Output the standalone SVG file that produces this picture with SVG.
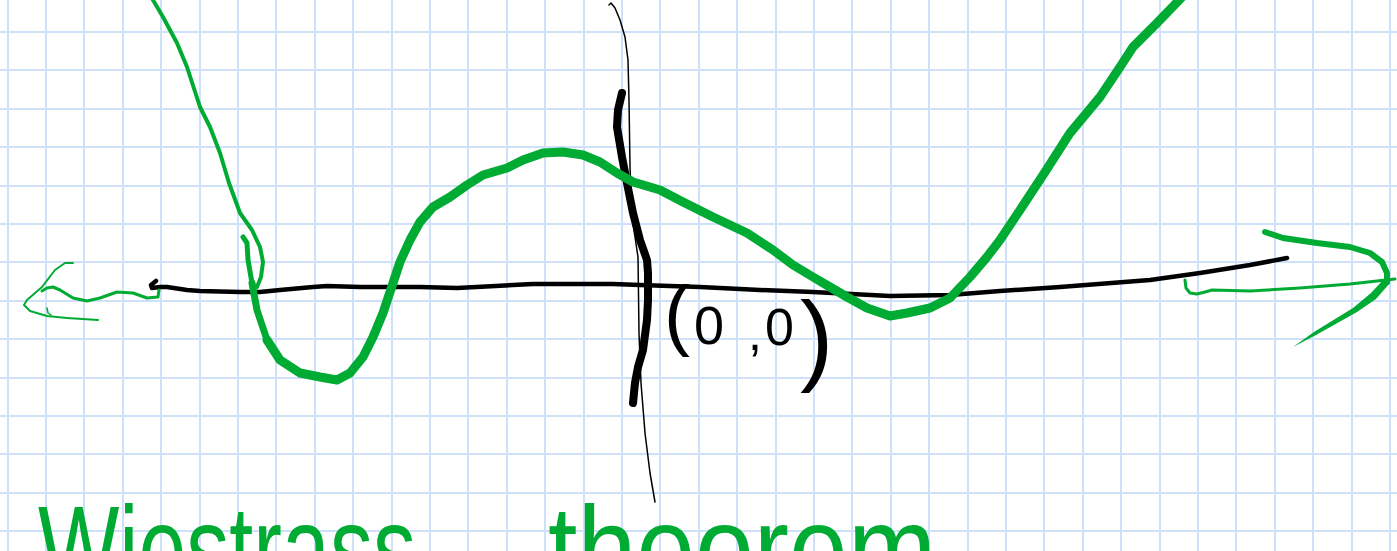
<svg xmlns="http://www.w3.org/2000/svg" width="1397" height="551" viewBox="0 0 1397 551">
<style>
.grid{stroke:#cfe0fb;stroke-width:2;fill:none}
.g{stroke:#00ab33;fill:none;stroke-linecap:round;stroke-linejoin:round}
.k{stroke:#000;fill:none;stroke-linecap:round;stroke-linejoin:round}
.hand{font-family:"Liberation Sans",Arial,sans-serif;fill:#00ab33}
.lbl{font-family:"Liberation Sans",Arial,sans-serif;fill:#000}
</style>
<rect width="1397" height="551" fill="#fff"/>
<g id="grid">
<path class="grid" d="M8 0V551M46 0V551M84 0V551M123 0V551M161 0V551M200 0V551M238 0V551M276 0V551M315 0V551M353 0V551M392 0V551M430 0V551M468 0V551M507 0V551M545 0V551M584 0V551M622 0V551M660 0V551M699 0V551M737 0V551M776 0V551M814 0V551M852 0V551M891 0V551M929 0V551M968 0V551M1006 0V551M1044 0V551M1083 0V551M1121 0V551M1160 0V551M1198 0V551M1236 0V551M1275 0V551M1313 0V551M1352 0V551M1390 0V551"/>
<path class="grid" d="M0 32H1397M0 70H1397M0 109H1397M0 147H1397M0 186H1397M0 224H1397M0 262H1397M0 301H1397M0 339H1397M0 378H1397M0 416H1397M0 454H1397M0 493H1397M0 531H1397"/>
</g>
<g id="axes">
<path id="x-axis" class="k" stroke-width="4.5" d="M156,281 L151,285 L152,288 L160,287 L167,287 L187,290 L200,291 L240,292 L260,292 L280,290 L313,287 L327,286 L360,287 L420,287 L457,288 L533,284 L613,284 L640,285 L700,287 L760,290 L813,292 L890,296 L950,295 L1000,291 L1060,287 L1150,280 L1200,273 L1250,265 L1287,258"/>
<path id="y-axis-thin" class="k" stroke-width="1.5" d="M609,5 L611,3 L615,8 L620,20 L625,37 L628,60 L629,100 L630,167 L632,217 L638,257 L639,333 L641,383 L645,433 L650,473 L655,502"/>
<path id="y-axis" class="k" stroke-width="8" d="M622,93 L618,110 L617,127 L622,157 L627,183 L633,213 L640,240 L647,260 L648,273 L648,300 L647,320 L643,350 L638,367 L635,383 L633,403"/>
</g>
<g id="curve">
<path class="g" stroke-width="4" d="M150,-6 L153,0 L163,17 L177,43 L187,67 L200,107 L210,127 L220,153 L229,183 L240,213 L252,230 L260,247 L263,262 L261,277 L257,287"/>
<path class="g" stroke-width="5" d="M243,237 L247,243 L248,260 L252,283"/>
<path class="g" stroke-width="7" d="M252,283 L257,310 L267,340"/>
<path class="g" stroke-width="9" d="M267,340 L280,360 L300,373 L320,377 L337,380 L350,373 L363,357 L373,337 L383,313 L393,283 L400,262 L410,240 L420,222 L433,207 L450,197 L467,185 L483,175 L507,168 L523,160 L543,153 L563,152 L583,155 L600,162 L617,173 L633,182 L660,190 L683,202 L713,217 L747,233 L773,250 L793,265 L813,277 L830,287 L847,297 L867,308 L890,316 L907,313 L930,308 L950,298 L970,277 L987,257 L1000,240 L1022,207 L1045,172 L1070,133 L1100,97 L1120,67 L1133,47 L1157,23 L1185,-6"/>
</g>
<g id="arrows">
<g id="arrow-left">
<path class="g" stroke-width="3" d="M159,290 L158,297 L147,298 L133,293 L117,292 L100,298 L87,301 L73,298 L60,290 L53,287 L47,288 L42,291"/>
<path class="g" stroke-width="2" d="M73,263 L65,263 L55,270 L42,287 L27,300 L24,305 L30,311 L47,316 L67,318 L98,320"/>
<path class="g" stroke-width="1.5" d="M47,308 L48,313 L51,315"/>
</g>
<g id="arrow-right">
<path class="g" stroke-width="3" d="M1185,280 L1186,288 L1190,293 L1197,294 L1205,292 L1212,290 L1250,291 L1300,288 L1350,284 L1395,279"/>
<path class="g" stroke-width="6" d="M1265,232 L1283,238 L1317,243 L1350,247 L1370,253 L1382,262 L1387,273 L1387,282"/>
<path fill="#00ab33" d="M1390,283 L1376,299 L1357,312 L1316,335 L1293,347 L1314,332 L1353,308 L1371,293 L1384,279 Z"/>
</g>
</g>
<g id="label-origin">
<text class="lbl"><tspan x="664" y="341" font-size="78">(</tspan><tspan x="694" y="344" font-size="54">0</tspan><tspan x="748" y="350" font-size="50">,</tspan><tspan x="765" y="345" font-size="52">0</tspan><tspan x="800" y="372" font-size="100">)</tspan></text>
</g>
<g id="title">
<text class="hand" x="38" y="590" font-size="120" textLength="378" lengthAdjust="spacingAndGlyphs">Wiestrass</text>
<text class="hand" x="548" y="590" font-size="120" textLength="388" lengthAdjust="spacingAndGlyphs">theorem</text>
</g>
</svg>
